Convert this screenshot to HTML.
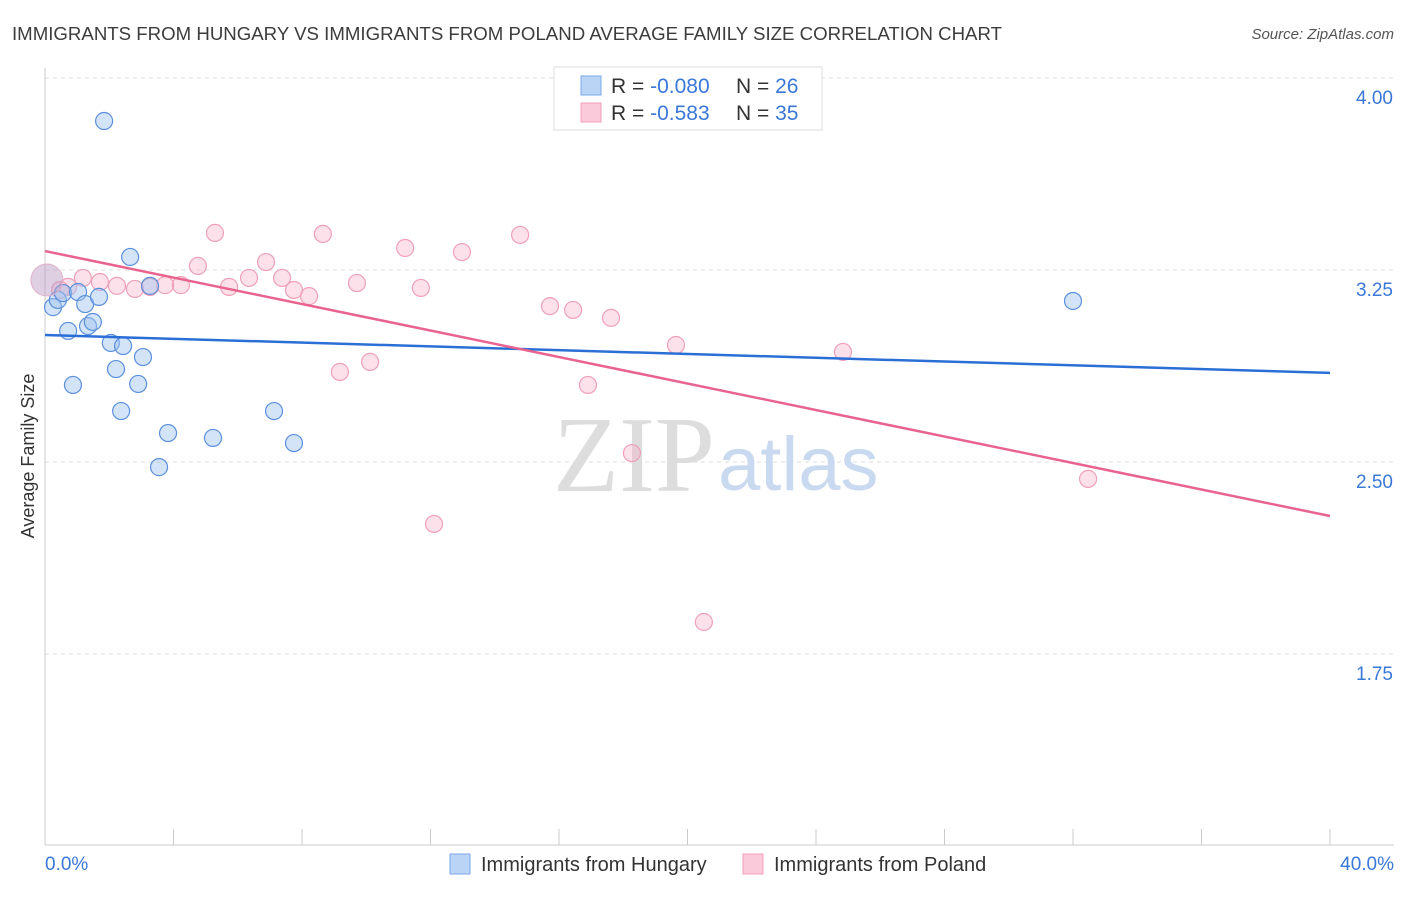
<!DOCTYPE html>
<html><head><meta charset="utf-8"><style>
body{margin:0;background:#fff;font-family:"Liberation Sans",sans-serif;}
svg text{font-family:"Liberation Sans",sans-serif;}
</style></head><body>
<svg id="chart" width="1406" height="892" xmlns="http://www.w3.org/2000/svg">
<text x="12" y="40" font-size="18" fill="#3c3c3c" textLength="990" lengthAdjust="spacingAndGlyphs">IMMIGRANTS FROM HUNGARY VS IMMIGRANTS FROM POLAND AVERAGE FAMILY SIZE CORRELATION CHART</text>
<text x="1394" y="39" font-size="15" fill="#555" font-style="italic" text-anchor="end">Source: ZipAtlas.com</text>
<g id="grid"></g>
<g id="axes"></g>
<text x="553" y="491" font-size="108" fill="#ddd" style="font-family:'Liberation Serif',serif">ZIP</text>
<text x="718" y="490" font-size="76" fill="#c9d9f0">atlas</text>
<g id="points"></g>
<g id="lines"></g>
<text x="34" y="456" font-size="18" fill="#333" text-anchor="middle" transform="rotate(-90 34 456)">Average Family Size</text>
<g>
<rect x="554" y="67" width="268" height="63" fill="#fff" stroke="#ddd"/>
<rect x="581" y="76" width="20" height="19" fill="#b9d4f5" stroke="#7aa8e6"/>
<rect x="581" y="103" width="20" height="19" fill="#fbcada" stroke="#efa0b8"/>
<text x="611" y="93" font-size="21" fill="#333">R = <tspan fill="#3a78d8">-0.080</tspan></text>
<text x="736" y="93" font-size="21" fill="#333">N = <tspan fill="#3a78d8">26</tspan></text>
<text x="611" y="120" font-size="21" fill="#333">R =  <tspan fill="#3a78d8">-0.583</tspan></text>
<text x="736" y="120" font-size="21" fill="#333">N = <tspan fill="#3a78d8">35</tspan></text>
</g>
<g>
<rect x="450" y="854" width="20" height="20" fill="#b9d4f5" stroke="#7aa8e6"/>
<text x="481" y="871" font-size="20" fill="#333">Immigrants from Hungary</text>
<rect x="743" y="854" width="20" height="20" fill="#fbcada" stroke="#efa0b8"/>
<text x="774" y="871" font-size="20" fill="#333">Immigrants from Poland</text>
</g>
</svg>
<script>
const yTicks=[4.00,3.25,2.50,1.75];
const yTickLabels=["4.00","3.25","2.50","1.75"];
const xLabels=["0.0%","40.0%"];
const hungaryX=[1.84,2.65,3.27,0.25,0.40,0.56,0.72,1.03,1.25,1.68,1.34,1.49,2.05,2.43,2.21,3.05,2.90,0.87,2.37,3.83,3.55,5.23,7.13,7.75,32.0];
const hungaryY=[3.832,3.301,3.188,3.105,3.133,3.160,3.012,3.164,3.117,3.145,3.031,3.047,2.965,2.953,2.863,2.910,2.805,2.801,2.699,2.613,2.480,2.594,2.699,2.574,3.129];
const polandX=[0.47,0.72,1.18,1.71,2.24,2.80,3.27,3.74,4.23,4.76,5.29,5.73,6.35,6.88,7.38,7.75,8.22,8.65,9.18,9.71,10.12,11.21,11.70,12.11,12.98,14.79,15.72,16.44,16.90,17.62,18.27,19.64,20.51,24.84,32.47];
const polandY=[3.172,3.184,3.219,3.203,3.188,3.176,3.184,3.191,3.191,3.266,3.395,3.184,3.219,3.281,3.219,3.172,3.148,3.391,2.852,3.199,2.891,3.336,3.180,2.258,3.320,3.387,3.109,3.094,2.801,3.063,2.535,2.957,1.875,2.930,2.434];
const hungaryTrend=[2.996,2.848];
const polandTrend=[3.324,2.289];
const NS="http://www.w3.org/2000/svg";
const xs=v=>45+v/40*1285;
const ys=v=>78+(4-v)*256;
function mk(tag,attrs,parent){const e=document.createElementNS(NS,tag);for(const k in attrs)e.setAttribute(k,attrs[k]);parent.appendChild(e);return e;}
const grid=document.getElementById('grid'),axes=document.getElementById('axes'),pts=document.getElementById('points'),lines=document.getElementById('lines');
yTicks.forEach((t,i)=>{
 const l=mk('line',{x1:45,x2:1394,y1:ys(t),y2:ys(t),stroke:'#ddd','stroke-dasharray':'4,4'},grid);
 
 
 const tx=mk('text',{x:1393,y:ys(t)+26,'font-size':19,fill:'#3a78d8','text-anchor':'end'},axes);
 tx.textContent=yTickLabels[i];
 
 
});
const ya=mk('line',{x1:45,x2:45,y1:68,y2:845,stroke:'#ccc'},axes);


const xa=mk('line',{x1:45,x2:1394,y1:845,y2:845,stroke:'#ccc'},axes);


for(let i=1;i<=10;i++){const tk=mk('line',{x1:xs(i*4),x2:xs(i*4),y1:829,y2:845,stroke:'#ccc'},axes);
 
 }
[[0,'start',45],[40,'end',1394]].forEach((d,i)=>{const tx=mk('text',{x:d[2],y:870,'font-size':19,fill:'#3a78d8','text-anchor':d[1]},axes);tx.textContent=xLabels[i];
 
 });
function dots(X,Y,fill,stroke,name){X.forEach((x,i)=>{const c=mk('circle',{cx:xs(x),cy:ys(Y[i]),r:8.5,fill:fill,stroke:stroke,'stroke-width':1.2},pts);
 
 });}
dots(polandX,polandY,'rgba(247,170,195,0.35)','#efa0b8','poland-point');
dots(hungaryX,hungaryY,'rgba(160,195,240,0.45)','#5b90dc','hungary-point');
const big=mk('circle',{cx:xs(0.06),cy:ys(3.211),r:16,fill:'rgba(190,160,200,0.5)',stroke:'#e0b0c8'},pts);


const hl=mk('line',{x1:xs(0),x2:xs(40),y1:ys(hungaryTrend[0]),y2:ys(hungaryTrend[1]),stroke:'#2b6fd6','stroke-width':2.5},lines);


const pl=mk('line',{x1:xs(0),x2:xs(40),y1:ys(polandTrend[0]),y2:ys(polandTrend[1]),stroke:'#e8648f','stroke-width':2.5},lines);


</script>
</body></html>
